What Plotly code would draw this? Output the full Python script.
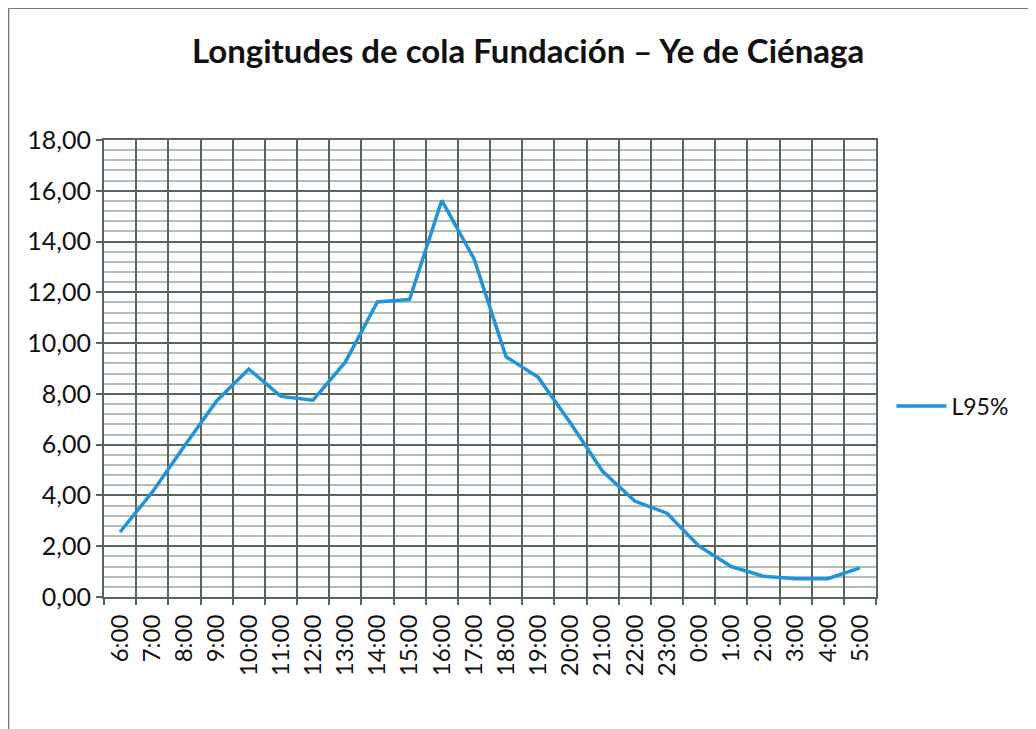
import plotly.graph_objects as go

hours = ["6:00", "7:00", "8:00", "9:00", "10:00", "11:00", "12:00", "13:00",
         "14:00", "15:00", "16:00", "17:00", "18:00", "19:00", "20:00", "21:00",
         "22:00", "23:00", "0:00", "1:00", "2:00", "3:00", "4:00", "5:00"]
l95 = [2.56, 4.13, 5.95, 7.72, 8.98, 7.90, 7.75, 9.25,
       11.62, 11.72, 15.62, 13.33, 9.46, 8.65, 6.85, 4.95,
       3.78, 3.30, 2.00, 1.20, 0.82, 0.72, 0.72, 1.15]
y_ticks = [0, 2, 4, 6, 8, 10, 12, 14, 16, 18]
y_ticktext = ["0,00", "2,00", "4,00", "6,00", "8,00", "10,00", "12,00", "14,00", "16,00", "18,00"]

major = "#56665a"
minor = "#b4bdb4"
font = "Lato, Liberation Sans, sans-serif"

fig = go.Figure()
fig.add_trace(go.Scatter(x=hours, y=l95, mode="lines", name="L95%",
                         line=dict(color="#1e94dc", width=3.5)))

fig.update_layout(
    width=1036, height=729,
    paper_bgcolor="white", plot_bgcolor="white",
    margin=dict(l=96, r=168, t=132, b=140),
    title=dict(text="<b>Longitudes de cola Fundación – Ye de Ciénaga</b>",
               x=0.502, xanchor="center", y=0.94, yanchor="middle",
               font=dict(family=font, size=33, color="#111111")),
    font=dict(family=font, color="#111111"),
    legend=dict(x=1.02, y=0.418, xanchor="left", yanchor="middle",
                font=dict(size=23, color="#111111"), bgcolor="rgba(0,0,0,0)",
                itemwidth=50),
    showlegend=True,
)
fig.update_xaxes(type="category", tickson="boundaries", showgrid=True,
                 gridcolor=major, gridwidth=2, ticks="outside", ticklen=6,
                 tickcolor=major, tickwidth=2, tickangle=-90,
                 tickfont=dict(size=24, color="#111111"), ticklabelstandoff=6,
                 showline=True, linecolor=major, linewidth=2, mirror=True,
                 range=[-0.5, 23.5])
fig.update_yaxes(range=[0, 18], tickvals=y_ticks, ticktext=y_ticktext,
                 showgrid=True, gridcolor=major, gridwidth=2,
                 ticks="outside", ticklen=6, tickcolor=major, tickwidth=2,
                 tickfont=dict(size=25, color="#111111"),
                 showline=True, linecolor=major, linewidth=2, mirror=True,
                 zeroline=False,
                 minor=dict(dtick=0.4, showgrid=True, gridcolor=minor, gridwidth=1.5))

fig.add_shape(type="rect", xref="paper", yref="paper",
              x0=-0.124, x1=1.2, y0=-0.33, y1=1.289,
              line=dict(color="#6d7d6d", width=2), fillcolor="rgba(0,0,0,0)",
              layer="below")

fig.write_html("out.html")
